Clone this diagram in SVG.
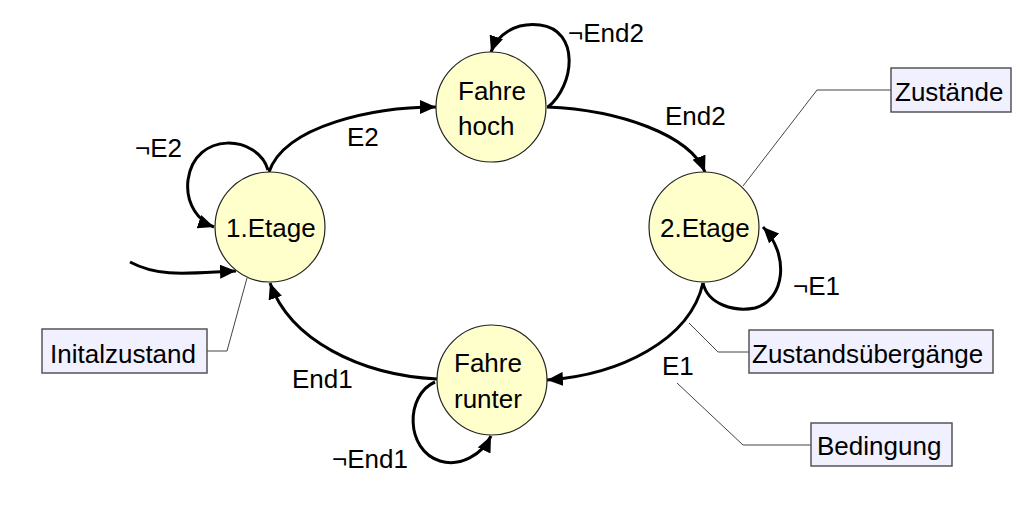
<svg xmlns="http://www.w3.org/2000/svg" width="1035" height="513" viewBox="0 0 1035 513">
<style>
  text { font-family: "Liberation Sans", Arial, sans-serif; font-size: 26px; fill: #000; }
  .state { fill: #FFFFCC; stroke: #222; stroke-width: 1.2; }
  .edge { fill: none; stroke: #000; stroke-width: 3; marker-end: url(#arrow); }
  .note { fill: #F0F0FF; stroke: #555; stroke-width: 1.5; }
  .leader { fill: none; stroke: #444; stroke-width: 1; }
</style>
<defs>
  <marker id="arrow" markerUnits="userSpaceOnUse" markerWidth="16" markerHeight="14" refX="16" refY="7" orient="auto">
    <path d="M0,0 L16,7 L0,14 z" fill="#000"/>
  </marker>
</defs>
<rect width="1035" height="513" fill="#fff"/>

<g id="connectors">
  <path class="edge" d="M269,172 C 285,125 375,107 436,107"/>
  <path class="edge" d="M547,107 C 620,110 690,135 705,172"/>
  <path class="edge" d="M703,283 C 690,340 620,375 547,380"/>
  <path class="edge" d="M437,379 C 360,375 290,340 270,283"/>
  <path class="edge" d="M268,170 C 258,135 195,130 188,180 C 185,205 200,222 214,227"/>
  <path class="edge" d="M548,107 C 575,85 580,30 540,25 C 515,22 497,35 491,52"/>
  <path class="edge" d="M703,283 C 708,305 735,312 755,308 C 785,300 790,255 763,227"/>
  <path class="edge" d="M435,382 C 405,395 405,450 440,461 C 460,467 482,455 491,436"/>
  <path class="edge" d="M130,262 C 160,278 190,273 236,271"/>
  <text x="135" y="157">¬E2</text>
  <text x="347" y="146">E2</text>
  <text x="568" y="42">¬End2</text>
  <text x="665" y="125">End2</text>
  <text x="793" y="295">¬E1</text>
  <text x="662" y="375">E1</text>
  <text x="292" y="388">End1</text>
  <text x="332" y="468">¬End1</text>
</g>

<g id="leaders">
  <polyline class="leader" points="891,90 817,90 743,186"/>
  <polyline class="leader" points="749,352 718,352 689,323"/>
  <polyline class="leader" points="811,445 743,445 677,383"/>
  <polyline class="leader" points="207,351 227,351 247,278"/>
</g>

<g id="etage1">
  <circle class="state" cx="270" cy="227" r="55"/>
  <text x="226" y="237">1.Etage</text>
</g>
<g id="fahrehoch">
  <circle class="state" cx="491" cy="107" r="55"/>
  <text x="458" y="100">Fahre</text>
  <text x="458" y="135">hoch</text>
</g>
<g id="etage2">
  <circle class="state" cx="704" cy="227" r="55"/>
  <text x="660" y="237">2.Etage</text>
</g>
<g id="fahrerunter">
  <circle class="state" cx="492" cy="380" r="55"/>
  <text x="454" y="372">Fahre</text>
  <text x="454" y="408">runter</text>
</g>

<g id="note-zustaende">
  <rect class="note" x="891" y="68" width="120" height="44"/>
  <text x="895" y="101">Zustände</text>
</g>
<g id="note-uebergaenge">
  <rect class="note" x="749" y="330" width="244" height="43"/>
  <text x="752" y="363">Zustandsübergänge</text>
</g>
<g id="note-bedingung">
  <rect class="note" x="811" y="423" width="141" height="43"/>
  <text x="817" y="455">Bedingung</text>
</g>
<g id="note-initial">
  <rect class="note" x="42" y="329" width="165" height="44"/>
  <text x="50" y="363">Initalzustand</text>
</g>
</svg>
